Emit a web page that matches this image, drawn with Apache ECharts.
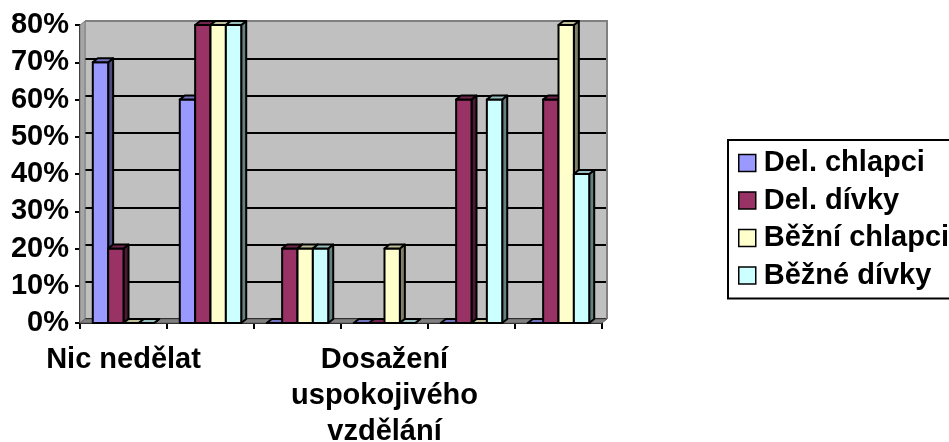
<!DOCTYPE html>
<html>
<head>
<meta charset="utf-8">
<script src="https://cdn.jsdelivr.net/npm/echarts@6/dist/echarts.min.js"></script>
<style>
html,body{margin:0;padding:0;background:#fff;}
#c{width:949px;height:442px;}
</style>
</head>
<body>
<div id="c"></div>
<script>
const categories = ["Nic nedělat", "", "", "Dosažení\nuspokojivého\nvzdělání", "", ""];
const seriesNames = ["Del. chlapci", "Del. dívky", "Běžní chlapci", "Běžné dívky"];
const delChlapci = [70, 60, 0, 0, 0, 0];
const delDivky = [20, 80, 20, 0, 60, 60];
const bezniChlapci = [0, 80, 20, 20, 0, 80];
const bezneDivky = [0, 80, 20, 0, 60, 40];
const yTicks = [0, 10, 20, 30, 40, 50, 60, 70, 80];

const seriesValues = [delChlapci, delDivky, bezniChlapci, bezneDivky];
const frontColors = ["#9999FF", "#993366", "#FFFFCC", "#CCFFFF"];
const sideColors = ["#4C4C80", "#4D1A33", "#808066", "#668080"];
const topColors = ["#7373BF", "#73264D", "#BFBF99", "#99BFBF"];

const GL = 80, GT = 25, GW = 522, GH = 298, DX = 5, DY = 4;
const FONT = "'Liberation Sans', Arial, sans-serif";

function makeRender(si) {
  return function (params, api) {
    const cat = api.value(0), val = api.value(1);
    const base = api.coord([cat, 0]);
    const topPt = api.coord([cat, val]);
    const band = api.size([1, 0])[0];
    const w = band * 0.1765;
    const x0 = base[0] - 2 * w + si * w;
    const x1 = x0 + w;
    const y0 = topPt[1], y1 = base[1];
    const stroke = { stroke: "#000", lineWidth: 2, lineJoin: "round" };
    return {
      type: "group",
      children: [
        { type: "polygon", shape: { points: [[x1, y0], [x1 + DX, y0 - DY], [x1 + DX, y1 - DY], [x1, y1]] },
          style: Object.assign({ fill: sideColors[si] }, stroke) },
        { type: "rect", shape: { x: x0, y: y0, width: w, height: y1 - y0 },
          style: Object.assign({ fill: frontColors[si] }, stroke) },
        { type: "polygon", shape: { points: [[x0, y0], [x0 + DX, y0 - DY], [x1 + DX, y0 - DY], [x1, y0]] },
          style: Object.assign({ fill: topColors[si] }, stroke) }
      ]
    };
  };
}

const series = seriesValues.map(function (vals, si) {
  return {
    type: "custom",
    name: seriesNames[si],
    xAxisIndex: 0, yAxisIndex: 0,
    itemStyle: { color: frontColors[si] },
    renderItem: makeRender(si),
    encode: { x: 0, y: 1 },
    data: vals.map(function (v, i) { return [i, v]; }),
    z: 2
  };
});

const chart = echarts.init(document.getElementById("c"), null, { renderer: "canvas" });
chart.setOption({
  animation: false,
  backgroundColor: "#ffffff",
  grid: [
    { left: GL, top: GT, width: GW, height: GH, containLabel: false, outerBoundsMode: "none" },
    { left: GL + DX, top: GT - DY, width: GW, height: GH, show: true, containLabel: false, outerBoundsMode: "none",
      backgroundColor: "#C0C0C0", borderColor: "#808080", borderWidth: 1 }
  ],
  xAxis: [
    { type: "category", gridIndex: 0, data: categories,
      axisLine: { lineStyle: { color: "#000", width: 2 } },
      axisTick: { show: true, length: 6, lineStyle: { color: "#000", width: 2 } },
      axisLabel: { interval: 0, margin: 19, color: "#000", fontFamily: FONT, fontWeight: "bold",
        fontSize: 29, lineHeight: 36 },
      splitLine: { show: false } },
    { type: "category", gridIndex: 1, data: categories, show: false }
  ],
  yAxis: [
    { type: "value", gridIndex: 0, min: 0, max: 80, interval: 10,
      axisLine: { show: true, lineStyle: { color: "#000", width: 2 } },
      axisTick: { show: true, length: 5, lineStyle: { color: "#000", width: 2 } },
      axisLabel: { margin: 11, color: "#000", fontFamily: FONT, fontWeight: "bold", fontSize: 29,
        padding: [8, 0, 0, 0],
        formatter: function (v) { return yTicks.indexOf(v) >= 0 ? v + "%" : ""; } },
      splitLine: { show: false } },
    { type: "value", gridIndex: 1, min: 0, max: 80, interval: 10,
      axisLine: { show: false }, axisTick: { show: false }, axisLabel: { show: false },
      splitLine: { show: true, lineStyle: { color: "#000", width: 2 } } }
  ],
  legend: {
    orient: "vertical",
    left: 728, top: 140,
    padding: [8, 12, 8, 10],
    itemGap: 7.5,
    itemWidth: 17, itemHeight: 17,
    icon: "rect",
    borderColor: "#000", borderWidth: 2,
    itemStyle: { borderColor: "#000", borderWidth: 1.5 },
    textStyle: { color: "#000", fontFamily: FONT, fontWeight: "bold", fontSize: 29, lineHeight: 30,
      padding: [0, 0, 0, 3] },
    data: seriesNames
  },
  graphic: { elements: [
    { type: "polygon", z: 1, shape: { points: [[GL, GT], [GL + DX, GT - DY], [GL + DX, GT + GH - DY], [GL, GT + GH]] },
      style: { fill: "#A6A6A6", stroke: "#808080", lineWidth: 1 } },
    { type: "polyline", z: 1, shape: { points: [[GL + DX, GT - DY], [GL + GW + DX, GT - DY], [GL + GW + DX, GT + GH - DY]] },
      style: { stroke: "#808080", lineWidth: 2, fill: null } },
    { type: "polygon", z: 1, shape: { points: [[GL, GT + GH], [GL + DX, GT + GH - DY], [GL + GW + DX, GT + GH - DY], [GL + GW, GT + GH]] },
      style: { fill: "#808080", stroke: "#606060", lineWidth: 1 } }
  ] },
  series: series
});
</script>
</body>
</html>
